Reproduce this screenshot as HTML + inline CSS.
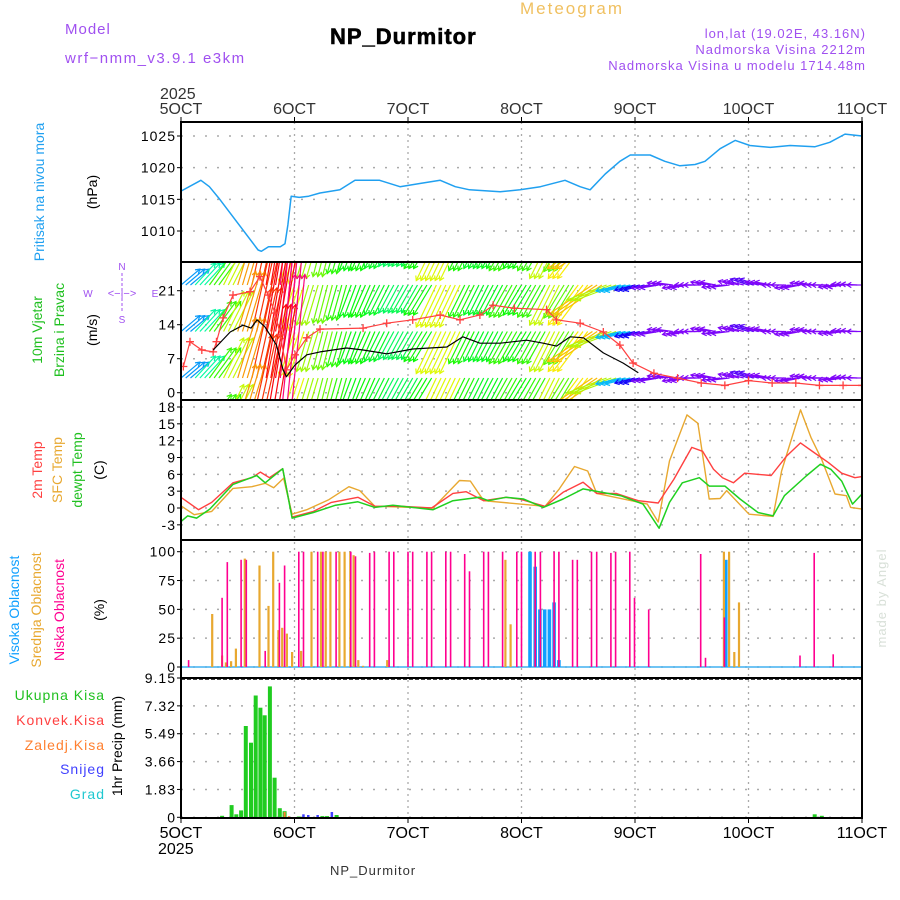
<!DOCTYPE html>
<html><head><meta charset="utf-8"><style>
html,body{margin:0;padding:0;background:#fff;}
svg{display:block;font-family:"Liberation Sans",sans-serif;}
</style></head><body>
<svg id="chart" width="900" height="900" viewBox="0 0 900 900" xmlns="http://www.w3.org/2000/svg">
<g id="texts">
<text x="65" y="34" font-size="15" fill="#a050f0" letter-spacing="1">Model</text>
<text x="65" y="63" font-size="15" fill="#a050f0" letter-spacing="1.5">wrf−nmm_v3.9.1  e3km</text>
<text x="330" y="44" font-size="22" font-weight="bold" fill="#000" letter-spacing="1" stroke="#000" stroke-width="0.6">NP_Durmitor</text>
<text x="520" y="14" font-size="17" fill="#f0c060" letter-spacing="2">Meteogram</text>
<text x="866" y="38" font-size="13" fill="#a050f0" text-anchor="end" letter-spacing="1">lon,lat (19.02E, 43.16N)</text>
<text x="866" y="54" font-size="13" fill="#a050f0" text-anchor="end" letter-spacing="1">Nadmorska Visina 2212m</text>
<text x="866" y="70" font-size="13" fill="#a050f0" text-anchor="end" letter-spacing="1">Nadmorska Visina u modelu 1714.48m</text>
<text x="160" y="99" font-size="16" fill="#333">2025</text>
<text x="158" y="854" font-size="16" fill="#000">2025</text>
<text x="330" y="875" font-size="13" fill="#333" letter-spacing="1">NP_Durmitor</text>
<text transform="translate(44,192) rotate(-90)" font-size="14" fill="#20a0f0" text-anchor="middle">Pritisak na nivou mora</text>
<text transform="translate(97,192) rotate(-90)" font-size="14" fill="#000" text-anchor="middle">(hPa)</text>
<text transform="translate(42,330) rotate(-90)" font-size="14" fill="#20c020" text-anchor="middle">10m Vjetar</text>
<text transform="translate(64,330) rotate(-90)" font-size="14" fill="#20c020" text-anchor="middle">Brzina i Pravac</text>
<text transform="translate(97,330) rotate(-90)" font-size="14" fill="#000" text-anchor="middle">(m/s)</text>
<g fill="#a050f0" font-size="10" stroke="none">
<text x="122" y="270" text-anchor="middle">N</text>
<text x="122" y="323" text-anchor="middle">S</text>
<text x="88" y="297" text-anchor="middle">W</text>
<text x="155" y="297" text-anchor="middle">E</text>
<text x="122" y="297" text-anchor="middle" font-size="11">&lt;−|−&gt;</text>
<line x1="122" y1="273" x2="122" y2="312" stroke="#a050f0" stroke-dasharray="3,2"/>
</g>
<text transform="translate(42,470) rotate(-90)" font-size="14" fill="#ff4040" text-anchor="middle">2m Temp</text>
<text transform="translate(62,470) rotate(-90)" font-size="14" fill="#e8a830" text-anchor="middle">SFC Temp</text>
<text transform="translate(82,470) rotate(-90)" font-size="14" fill="#20c020" text-anchor="middle">dewpt Temp</text>
<text transform="translate(104,470) rotate(-90)" font-size="14" fill="#000" text-anchor="middle">(C)</text>
<text transform="translate(19,610) rotate(-90)" font-size="14" fill="#10a0ff" text-anchor="middle">Visoka Oblacnost</text>
<text transform="translate(41,610) rotate(-90)" font-size="14" fill="#e8a830" text-anchor="middle">Srednja Oblacnost</text>
<text transform="translate(64,610) rotate(-90)" font-size="14" fill="#ff0090" text-anchor="middle">Niska Oblacnost</text>
<text transform="translate(104,610) rotate(-90)" font-size="14" fill="#000" text-anchor="middle">(%)</text>
<text x="105" y="700" font-size="14" fill="#20c020" text-anchor="end" letter-spacing="1">Ukupna  Kisa</text>
<text x="105" y="725" font-size="14" fill="#ff4040" text-anchor="end" letter-spacing="1">Konvek.Kisa</text>
<text x="105" y="750" font-size="14" fill="#ff8030" text-anchor="end" letter-spacing="1">Zaledj.Kisa</text>
<text x="105" y="774" font-size="14" fill="#4040ff" text-anchor="end" letter-spacing="1">Snijeg</text>
<text x="105" y="799" font-size="14" fill="#20c8d0" text-anchor="end" letter-spacing="1">Grad</text>
<text transform="translate(122,746) rotate(-90)" font-size="14" fill="#000" text-anchor="middle">1hr Precip (mm)</text>
<text transform="translate(886,598) rotate(-90)" font-size="13" fill="#d8e0d8" text-anchor="middle" letter-spacing="1">made by Angel</text>
</g>
<g id="grid"></g>
<defs><clipPath id="windclip"><rect x="181" y="262" width="681" height="138"/></clipPath>
<clipPath id="allclip"><rect x="181" y="122" width="681" height="696"/></clipPath></defs>
<g id="marks"></g>
<g id="frames"></g>
</svg>
<script>
// ---- data ----
const dayLabels = ["5OCT","6OCT","7OCT","8OCT","9OCT","10OCT","11OCT"];
const pressureTicks = [1010,1015,1020,1025];
const windTicks = [0,7,14,21];
const tempTicks = [-3,0,3,6,9,12,15,18];
const cloudTicks = [0,25,50,75,100];
const precipTicks = ["0","1.83","3.66","5.49","7.32","9.15"];

const pressureHours = [0,4.2,6,8,16.3,17,18.5,21,22,22.6,23.3,25,27,29.4,33.6,36.8,42,46.3,50.5,54.8,58,61,67.5,71.7,76,81.2,84.4,86.5,89.7,92.8,95,99.2,102.3,105.5,108.7,110.8,114,117.2,120.3,124.6,128.8,134,137.2,140.4,144];
const pressureValues = [1016.3,1018,1017,1015.2,1007,1006.8,1007.5,1007.5,1008,1011,1015.5,1015.3,1015.5,1016,1016.5,1018,1018,1017,1017.5,1018,1017,1016.5,1016.2,1016.5,1017,1018,1017,1016.5,1019,1021,1022,1022,1021,1020.3,1020.5,1021,1023,1024.3,1023.5,1023.2,1023.5,1023.3,1024,1025.3,1025];

const speedHours = [6.8,10.4,13.1,14.8,16.1,17.7,20.2,21.6,22.3,24.1,26.6,29.4,35,38.5,43.5,49,56.2,59.6,63.2,67.5,73.1,76.6,79.4,82.3,85.1,89.3,93.5,96.7];
const speedValues = [8.8,12.5,13.9,13.3,15,13.6,9.8,4.7,3.3,5.7,7.8,8.4,9.2,8.8,8,9,9.4,11.5,10.2,10.2,10.8,10.2,9.6,11.5,11.3,8.2,6.1,4.1];
const gustHours = [0.5,1.9,4.4,6.8,7.5,8.9,11,14.6,16.7,18.4,19.9,21,22.3,24.1,26.6,29.4,38.5,43.5,49,54.8,59,63.2,66,70.5,77.3,79.4,84.4,89.3,92.8,95.6,100,105,110,115,120,125,130,135,140,144];
const gustValues = [5.4,10.5,8.8,8.4,10.5,15.4,20.1,20.8,23.9,20.1,16.4,11.9,4.7,7.8,11.3,13.1,13.3,14.3,15,16,15,16,18,17.4,17.1,15,14.3,12.5,9.8,6.1,4,3,2,1.5,2.5,2,2,1.5,1.5,1.5];

const windHours = [0,3,6,9,12,15,18,21,24,27,30,33,36,39,42,45,48,51,54,57,60,63,66,69,72,75,78,81,84,87,90,93,96,99,102,105,108,111,114,117,120,123,126,129,132,135,138,141,144];
const windU = [6.3,6.7,7.3,6.7,6,6.7,6.7,5,-5,-4,-3.3,-3.3,-4,-4.7,-5,-5,-5.3,-6,-6.7,-6.7,-5.3,-5,-5.3,-6,-6,-6,-6.7,-6.7,-10,-15,-13.3,-8.3,-6.7,-6,-5.3,-5,-5.7,-5,-6,-5.3,-6,-5.7,-5,-5.3,-5,-5.7,-5,-5.3,-5];
const windV = [5.3,7.3,10,13.3,20,30,40,50,-15,-13.3,-12.7,-11.7,-10.7,-10.7,-10,-9.3,-9.3,-10,-14,-14,-10.7,-10,-10,-10.7,-10,-10.7,-13.3,-11,-13.3,-10,-5,-2,-1.7,-1,0.7,-1,0,1,-0.7,1.3,2,1,0,-1,0.7,0,-0.7,0.3,0];

const t2Hours = [0,3.7,6.5,11,15,16.8,18.7,21.5,23.5,28,31.8,37.4,41,46.7,53,57.5,60.3,64,68.7,71.5,77,80.8,85,87.9,92,96.7,100.9,104.2,108,110.3,112.6,114.5,116.8,119.2,124.8,128,131,134,136.9,139.7,142.5,144];
const t2Values = [1.9,-0.3,1,4.5,5.4,6.4,5.4,7,-1.6,-0.6,1,1.9,0.3,0.3,0,2.6,2.9,1.3,1.9,1.6,0.3,2.8,4.6,2.6,2.6,1.3,0.9,5.1,10.8,10.1,6.9,5.4,4.5,6.2,5.8,9.2,11.6,9.8,8.1,6.2,5.4,5.6];
const sfcHours = [0,2.8,6.5,11,15,17.8,19.6,21.7,23.5,26.6,31.3,35.5,37.8,41,53.3,58.9,61.2,64,77,80,83.2,86,87.9,98.6,100.9,103.3,107,109.3,111.7,114,115.4,120.1,125.2,127,131,133.2,135.5,138.3,140.7,141.6,144];
const sfcValues = [0.4,-1.2,-0.6,3.5,3.8,4.4,3.6,5.3,-1.1,-0.3,1.5,3.8,3.1,0.3,0,4.9,4.8,1.3,0.3,3.4,7.4,6.6,2.6,0.7,-2.5,8.4,16.6,15.1,1.6,1.7,3.1,-1.1,-1.5,6.6,17.5,12.6,8.6,2.5,2.2,0.1,-0.2];
const dewHours = [0,1.4,3.3,6.1,11,16,17.8,21.5,23.5,28,32.7,37.4,41,44.8,53.3,57.5,63.1,65,68.7,72.4,76.6,80.8,85,93,97.7,101.1,103.3,106,109.6,111.7,115,118.2,122,125.2,127.6,132.2,135.2,137.4,139.7,142,144];
const dewValues = [-2.4,-1.4,-1.8,-0.2,4.2,5.8,4.5,7,-1.8,-0.8,0.5,1.1,0.1,0.5,-0.3,1.3,1.9,1.3,1.9,1.6,0.1,1.6,3.4,2.2,0.7,-3.6,1,4.5,5.4,3.9,3.9,1.6,-0.8,-1.4,2.2,5.7,7.8,6.9,4.8,0.7,2.5];

const lowCloudHours = [1.6,8.7,9.8,12.7,13.8,17.8,20.8,21.9,24.9,25.9,28.9,30,32.8,35.9,36.9,39.9,40.9,44,45,48,49,52,53,56,57,60,61,64,65,68,71,72,74.9,76,78.9,79.9,82.8,83.8,86.8,87.9,90.9,91.9,94.9,95.9,98.9,109.9,110.9,114.9,130.9,133.9,137.9];
const lowCloudValues = [6,60,91,93,93,14,73,88,100,100,100,100,100,100,96,99,100,100,100,100,100,100,100,100,100,98,83,100,100,100,100,100,100,100,100,100,93,93,100,100,99,100,100,60,50,98,8,43,10,99,11];
const midCloudHours = [6.6,8.7,9.5,10.6,11.6,13.5,16.6,18.5,19.5,20.6,21.4,22.4,23.5,25.4,27.6,29.6,30.6,31.6,33.5,34.6,35.8,36.5,37.5,38.5,43.6,68.6,69.7,114.8,115.9,117,118];
const midCloudValues = [46,10,4,5,16,94,88,53,100,32,34,29,13,14,100,100,100,100,100,100,100,97,6,1,6,93,37,100,100,13,56];
const highCloudHours = [73.8,74.9,75.9,76.9,77.9,78.9,79.9,115.2];
const highCloudValues = [100,87,50,50,50,56,6,93];

const rainHours = [8.7,10.7,11.7,12.7,13.7,14.8,15.8,16.8,17.7,18.8,19.8,20.9,21.9,24.9,29.9,30.9,32.9,134,135.5];
const rainValues = [0.1,0.8,0.2,0.45,6.0,4.9,8.0,7.2,6.7,8.6,2.6,0.6,0.4,0.05,0.08,0.08,0.15,0.2,0.1];
const freezingHours = [21.9,22.8];
const freezingValues = [0.35,0.08];
const snowHours = [25.9,26.9,28.9,31.9];
const snowValues = [0.2,0.15,0.15,0.35];

// ---- scales ----
const X0 = 181, X1 = 862;
const xs = h => X0 + h * (X1 - X0) / 144;
const yP = p => 136 + (1025 - p) * 6.333;
const yW = s => 392.7 - s * 4.857;
const yT = t => 508 - t * 5.611;
const yC = c => 667 - c * 1.153;
const yR = m => 817.3 - m * (139.3 / 9.15);
const NS = "http://www.w3.org/2000/svg";
function mk(tag, attrs, parent) {
  const e = document.createElementNS(NS, tag);
  for (const k in attrs) e.setAttribute(k, attrs[k]);
  parent.appendChild(e);
  return e;
}
const grid = document.getElementById('grid');
const marks = document.getElementById('marks');
const frames = document.getElementById('frames');
const panels = [[122,262],[262,400],[400,540],[540,678],[678,818]];

// vertical day gridlines
for (let d = 1; d < 6; d++) {
  const l = mk('line', {x1: xs(d*24), x2: xs(d*24), y1: 122, y2: 818, stroke: '#aaa', 'stroke-dasharray': '2,4', 'stroke-width': 1.3}, grid);
  
  
}
function hgrid(vals, yf, labels, name) {
  vals.forEach((v, i) => {
    const y = yf(v);
    const l = mk('line', {x1: X0, x2: X1, y1: y, y2: y, stroke: '#aaa', 'stroke-dasharray': '2,10', 'stroke-width': 1.5}, grid);
    
    
    const t = mk('text', {x: 176, y: y + 5, 'font-size': 14, 'text-anchor': 'end', fill: '#000', 'letter-spacing': 1}, grid);
    
    
    t.textContent = labels ? labels[i] : v;
    mk('line', {x1: X0 - 4, x2: X0, y1: y, y2: y, stroke: '#000'}, grid);
  });
}
hgrid(pressureTicks, yP, null, 'pressure');
hgrid(windTicks, yW, null, 'wind');
hgrid(tempTicks, yT, null, 'temp');
hgrid(cloudTicks, yC, null, 'cloud');
hgrid(precipTicks.map(Number), yR, precipTicks, 'precip');

// day labels top/bottom
dayLabels.forEach((lab, d) => {
  const x = xs(d * 24);
  const t1 = mk('text', {x: x, y: 114, 'font-size': 16, 'text-anchor': 'middle', fill: '#333'}, frames);
  
  
  t1.textContent = lab;
  const t2 = mk('text', {x: x, y: 838, 'font-size': 16, 'text-anchor': 'middle', fill: '#000'}, frames);
  
  
  t2.textContent = lab;
  mk('line', {x1: x, x2: x, y1: 117, y2: 122, stroke: '#000'}, frames);
  mk('line', {x1: x, x2: x, y1: 818, y2: 823, stroke: '#000'}, frames);
});

function polyline(hours, vals, yf, color, name, w) {
  const pts = hours.map((h, i) => xs(h).toFixed(1) + ',' + yf(vals[i]).toFixed(1)).join(' ');
  const p = mk('polyline', {points: pts, fill: 'none', stroke: color, 'stroke-width': w || 1.4, 'stroke-linejoin': 'round'}, marks);
  
  
  return p;
}

// pressure
polyline(pressureHours, pressureValues, yP, '#20a0f0', 'pressure-line', 1.5);

// wind arrows
const windG = mk('g', {'clip-path': 'url(#windclip)'}, marks);


function speedColor(s) {
  const st = [[6,270],[8,210],[11,130],[14,80],[18,45],[28,15],[40,0],[50,-30]];
  let hue = 270;
  if (s <= st[0][0]) hue = 270; else if (s >= 50) hue = -30;
  else for (let i = 0; i < st.length - 1; i++) if (s >= st[i][0] && s < st[i+1][0]) {
    const f = (s - st[i][0]) / (st[i+1][0] - st[i][0]);
    hue = st[i][1] + f * (st[i+1][1] - st[i][1]);
  }
  return 'hsl(' + ((hue + 360) % 360) + ',95%,50%)';
}
const rows = [238.5, 285, 331.5, 378, 424.5];
rows.forEach(ry => {
  windHours.forEach((h, i) => {
    const u = windU[i], v = windV[i];
    const col = speedColor(Math.hypot(u, v));
    for (let k = 0; k < 3; k++) {
      const hh = h + k;
      if (hh > 144) continue;
      const x = xs(hh), y = ry;
      const tx = x + 3 * u, ty = y - 3 * v;
      const a = mk('line', {x1: x, y1: y, x2: tx, y2: ty, stroke: col, 'stroke-width': 1.2}, windG);
      
      
      const ang = Math.atan2(ty - y, tx - x);
      const hl = 5;
      const p = [ang + 2.6, ang - 2.6].map(b => (tx + hl * Math.cos(b)).toFixed(1) + ',' + (ty + hl * Math.sin(b)).toFixed(1));
      mk('polyline', {points: p[0] + ' ' + tx.toFixed(1) + ',' + ty.toFixed(1) + ' ' + p[1], fill: 'none', stroke: col, 'stroke-width': 1.2}, windG);
    }
  });
});
// gust + line and speed line
const gustG = mk('g', {'clip-path': 'url(#windclip)'}, marks);


{
  const pts = gustHours.map((h, i) => xs(h).toFixed(1) + ',' + yW(gustValues[i]).toFixed(1)).join(' ');
  const pl = mk('polyline', {points: pts, fill: 'none', stroke: '#ff4040', 'stroke-width': 1.2}, gustG);
  
  
  gustHours.forEach((h, i) => {
    const x = xs(h), y = yW(gustValues[i]);
    const m = mk('path', {d: `M${x-4},${y}H${x+4}M${x},${y-4}V${y+4}`, stroke: '#ff4040', 'stroke-width': 1.3}, gustG);
    
    
  });
}
polyline(speedHours, speedValues, yW, '#000', 'wind-speed-line', 1.2);

// temperatures
polyline(sfcHours, sfcValues, yT, '#e8a830', 'sfc-temp-line', 1.4);
polyline(t2Hours, t2Values, yT, '#ff4040', 'temp-2m-line', 1.4);
polyline(dewHours, dewValues, yT, '#20d020', 'dewpoint-line', 1.5);

// cloud baseline
{
  const b = mk('line', {x1: X0, x2: X1, y1: yC(0), y2: yC(0), stroke: '#40b0f0', 'stroke-width': 1.5}, marks);
  
  
}
function bars(hours, vals, yf, color, w, name) {
  hours.forEach((h, i) => {
    const x = xs(h), y = yf(vals[i]), y0 = yf(0);
    const r = mk('rect', {x: (x - w / 2).toFixed(1), y: y.toFixed(1), width: w, height: Math.max(0.5, y0 - y).toFixed(1), fill: color}, marks);
    
    
  });
}
bars(highCloudHours, highCloudValues, yC, '#10a0ff', 3.6, 'high-cloud-bar');
bars(midCloudHours, midCloudValues, yC, '#e8a830', 2.2, 'mid-cloud-bar');
bars(lowCloudHours, lowCloudValues, yC, '#ff0090', 1.6, 'low-cloud-bar');

// precipitation
bars(rainHours, rainValues, yR, '#20cc20', 4, 'total-rain-bar');
bars(freezingHours, freezingValues, yR, '#ff8030', 2, 'freezing-rain-bar');
bars(snowHours, snowValues, yR, '#4040ff', 2.5, 'snow-bar');

// frames
panels.forEach(([a, b], i) => {
  const r = mk('rect', {x: X0, y: a, width: X1 - X0, height: b - a, fill: 'none', stroke: '#000', 'stroke-width': 2}, frames);
  
  
});
mk('line', {x1: X0, x2: X1, y1: 679, y2: 679, stroke: '#000', 'stroke-width': 1.5, 'stroke-dasharray': '4,2'}, frames);
</script>
</body></html>
